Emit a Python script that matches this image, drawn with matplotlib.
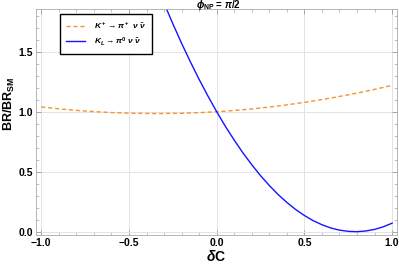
import matplotlib
matplotlib.use("Agg")
import matplotlib.pyplot as plt
from matplotlib.ticker import MultipleLocator

plt.rcParams['font.family'] = ['Liberation Sans', 'DejaVu Sans']
plt.rcParams['mathtext.fontset'] = 'custom'
plt.rcParams['mathtext.it'] = 'Liberation Sans:italic:bold'
plt.rcParams['mathtext.rm'] = 'Liberation Sans:bold'
plt.rcParams['mathtext.bf'] = 'Liberation Sans:bold'
plt.rcParams['mathtext.fallback'] = 'stixsans'

# K+ -> pi+ nu nubar
dc_kp = [-1.0, -0.9, -0.8, -0.7, -0.6, -0.5, -0.4, -0.3, -0.2, -0.1, 0.0,
         0.1, 0.2, 0.3, 0.4, 0.5, 0.6, 0.7, 0.8, 0.9, 1.0]
br_kp = [1.040, 1.024, 1.011, 1.001, 0.993, 0.988, 0.985, 0.985, 0.987, 0.992, 1.000,
         1.010, 1.023, 1.039, 1.057, 1.078, 1.101, 1.127, 1.155, 1.186, 1.220]

# KL -> pi0 nu nubar
dc_kl = [-0.35, -0.30, -0.25, -0.20, -0.15, -0.10, -0.05, 0.0, 0.05, 0.10,
         0.15, 0.20, 0.25, 0.30, 0.35, 0.40, 0.45, 0.50, 0.55, 0.60,
         0.65, 0.70, 0.75, 0.80, 0.85, 0.90, 0.95, 1.00]
br_kl = [2.083, 1.904, 1.733, 1.570, 1.416, 1.269, 1.131, 1.000, 0.877, 0.763,
         0.656, 0.558, 0.467, 0.385, 0.310, 0.244, 0.185, 0.135, 0.092, 0.058,
         0.031, 0.013, 0.003, 0.000, 0.006, 0.019, 0.041, 0.071]

xticks = [-1.0, -0.5, 0.0, 0.5, 1.0]
yticks = [0.0, 0.5, 1.0, 1.5]
xticklabels = ['\u22121.0', '\u22120.5', '0.0', '0.5', '1.0']
yticklabels = ['0.0', '0.5', '1.0', '1.5']

fig = plt.figure(figsize=(3.99, 2.65), dpi=100)
ax = fig.add_axes([0.0902, 0.113, 0.904, 0.853])

ax.plot(dc_kp, br_kp, color='#f7922c', lw=1.0, ls=(0, (3, 2)),
        label=r'$K^+ \to \pi^+\ \nu\ \bar{\nu}$')
ax.plot(dc_kl, br_kl, color='#1414ff', lw=1.0,
        label=r'$K_L \to \pi^0\ \nu\ \bar{\nu}$')

ax.set_xlim(-1.03, 1.026)
ax.set_ylim(-0.028, 1.856)
ax.set_xticks(xticks)
ax.set_yticks(yticks)
ax.set_xticklabels(xticklabels)
ax.set_yticklabels(yticklabels)
ax.xaxis.set_minor_locator(MultipleLocator(0.1))
ax.yaxis.set_minor_locator(MultipleLocator(0.1))
ax.grid(True, which='major', color='#e3e3e3', lw=0.7)
ax.set_axisbelow(True)
ax.tick_params(which='major', direction='in', length=3.5, width=0.6, color='#999999',
               labelsize=7.5, pad=2)
ax.tick_params(which='minor', direction='in', length=2, width=0.5, color='#aaaaaa')
ax.tick_params(top=True, right=True, which='both')
for lab in ax.get_xticklabels() + ax.get_yticklabels():
    lab.set_fontweight('bold')
for s in ax.spines.values():
    s.set_color('#aaaaaa')
    s.set_linewidth(0.6)

ax.set_xlabel(r'$\delta$C', fontsize=10, fontweight='bold', labelpad=1)
ax.set_ylabel(r'BR/BR$_{\mathrm{SM}}$', fontsize=9, fontweight='bold')
ax.yaxis.set_label_coords(-0.053, 0.58)
fig.text(0.547, 1 - 5.5 / 265, r'$\phi_{\mathrm{NP}}$ = $\pi$/2', fontsize=7,
         fontweight='bold', ha='center', va='center')

leg = ax.legend(loc='upper left', bbox_to_anchor=(0.0665, 0.978), fontsize=6,
                frameon=True, fancybox=False, edgecolor='black', framealpha=1,
                handlelength=2.2, borderpad=0.75, labelspacing=0.6, handletextpad=1.1,
                borderaxespad=0)
leg.get_frame().set_linewidth(1.0)

fig.savefig('out.png', dpi=100)
